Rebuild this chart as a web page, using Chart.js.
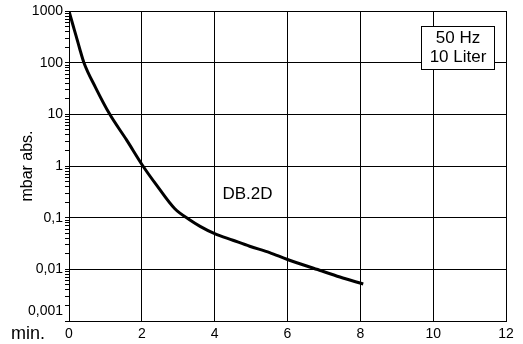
<!DOCTYPE html>
<html>
<head>
<meta charset="utf-8">
<script src="https://cdn.jsdelivr.net/npm/chart.js@4/dist/chart.umd.min.js"></script>
<style>
html,body{margin:0;padding:0;background:#fff;}
#wrap{width:523px;height:344px;}
</style>
</head>
<body>
<div id="wrap"><canvas id="c" width="523" height="344"></canvas></div>
<script>
// Data
const timeMin = [0, 0.1, 0.2, 0.29, 0.41, 0.73, 1.12, 1.58, 2.03, 2.4, 2.9, 3.3, 3.6, 4.0, 4.5, 4.96, 5.51, 6.0, 6.88, 7.44, 8.08];
const pressureMbar = [1000, 560, 320, 190, 100, 33, 10, 3.2, 1.0, 0.43, 0.15, 0.092, 0.068, 0.049, 0.0366, 0.028, 0.021, 0.0155, 0.0096, 0.0071, 0.0052];
const xTickValues = [0, 2, 4, 6, 8, 10, 12];
const yDecades = [0.001, 0.01, 0.1, 1, 10, 100, 1000];
const yDecadeLabels = ['0,001', '0,01', '0,1', '1', '10', '100', '1000'];
const yTitle = 'mbar abs.';
const xUnitLabel = 'min.';
const curveLabel = 'DB.2D';
const infoLines = ['50 Hz', '10 Liter'];

const FONT = "'Liberation Sans', Arial, sans-serif";
const TICKFONT = "'Liberation Sans Narrow', 'Arial Narrow', 'Liberation Sans', Arial, sans-serif";

function isDecade(v){ const l = Math.log10(v); return Math.abs(l - Math.round(l)) < 1e-9; }
function decadeIndex(v){
  for (let i = 0; i < yDecades.length; i++) if (Math.abs(Math.log10(yDecades[i]) - Math.log10(v)) < 1e-9) return i;
  return -1;
}

const overlay = {
  id: 'overlay',
  beforeDraw(chart){
    const c = chart.ctx;
    c.save(); c.fillStyle = '#fff'; c.fillRect(0,0,chart.width,chart.height); c.restore();
  },
  afterDraw(chart){
    const c = chart.ctx;
    const ys = chart.scales.y;
    c.save();
    c.fillStyle = '#000';
    // lowest decade label sits just above the x axis
    c.font = "14px " + TICKFONT;
    c.textAlign = 'right'; c.textBaseline = 'middle';
    c.fillText(yDecadeLabels[0], ys.right - 6, ys.getPixelForValue(yDecades[0]) - 10);
    // min. label
    c.font = "18px " + FONT;
    c.textAlign = 'left'; c.textBaseline = 'alphabetic';
    c.fillText(xUnitLabel, 11, 339);
    // curve label
    c.font = "17px " + FONT;
    c.textAlign = 'center'; c.textBaseline = 'middle';
    c.fillText(curveLabel, 247.5, 194.5);
    // info box
    c.fillStyle = '#fff';
    c.fillRect(421, 26, 73, 43);
    c.strokeStyle = '#000'; c.lineWidth = 1;
    c.strokeRect(421.5, 26.5, 73, 43);
    c.fillStyle = '#000';
    c.font = "17px " + FONT;
    c.fillText(infoLines[0], 458, 38.5);
    c.fillText(infoLines[1], 458, 57.5);
    c.restore();
  }
};

new Chart(document.getElementById('c'), {
  type: 'line',
  data: {
    datasets: [{
      data: timeMin.map((t, i) => ({x: t, y: pressureMbar[i]})),
      borderColor: '#000',
      borderWidth: 3,
      pointRadius: 0,
      fill: false,
      cubicInterpolationMode: 'monotone'
    }]
  },
  options: {
    responsive: false,
    animation: false,
    devicePixelRatio: 1,
    layout: {padding: {top: 11, right: 17, left: 0, bottom: 0}},
    plugins: {legend: {display: false}, tooltip: {enabled: false}},
    scales: {
      x: {
        type: 'linear', min: 0, max: 12,
        afterBuildTicks(scale){ scale.ticks = xTickValues.map(v => ({value: v})); },
        afterFit(scale){ scale.height = 23; },
        grid: {color: '#000', lineWidth: 1, drawTicks: false},
        border: {color: '#000', width: 1},
        ticks: {color: '#000', font: {family: TICKFONT, size: 14}, padding: 5, autoSkip: false, maxRotation: 0,
                callback: v => String(v)}
      },
      y: {
        type: 'logarithmic', min: 0.001, max: 1000,
        afterBuildTicks(scale){
          const t = [];
          for (let e = -3; e <= 3; e++) {
            for (let m = 1; m <= 9; m++) {
              const v = m * Math.pow(10, e);
              if (v > 1000 * 1.0000001) break;
              t.push({value: v, major: m === 1});
            }
          }
          scale.ticks = t;
        },
        afterFit(scale){ scale.width = 69; },
        grid: {
          color: ctx => (ctx.tick && isDecade(ctx.tick.value)) ? '#000' : 'rgba(0,0,0,0)',
          tickColor: '#000',
          tickLength: 4,
          lineWidth: 1
        },
        border: {color: '#000', width: 1},
        title: {display: true, text: yTitle, color: '#000', font: {family: FONT, size: 16}, padding: {top: 18, bottom: 0}},
        ticks: {color: '#000', font: {family: TICKFONT, size: 14}, padding: 2, autoSkip: false,
                callback: (v) => {
                  const i = decadeIndex(v);
                  return i > 0 ? yDecadeLabels[i] : '';
                }}
      }
    }
  },
  plugins: [overlay]
});
</script>
</body>
</html>
